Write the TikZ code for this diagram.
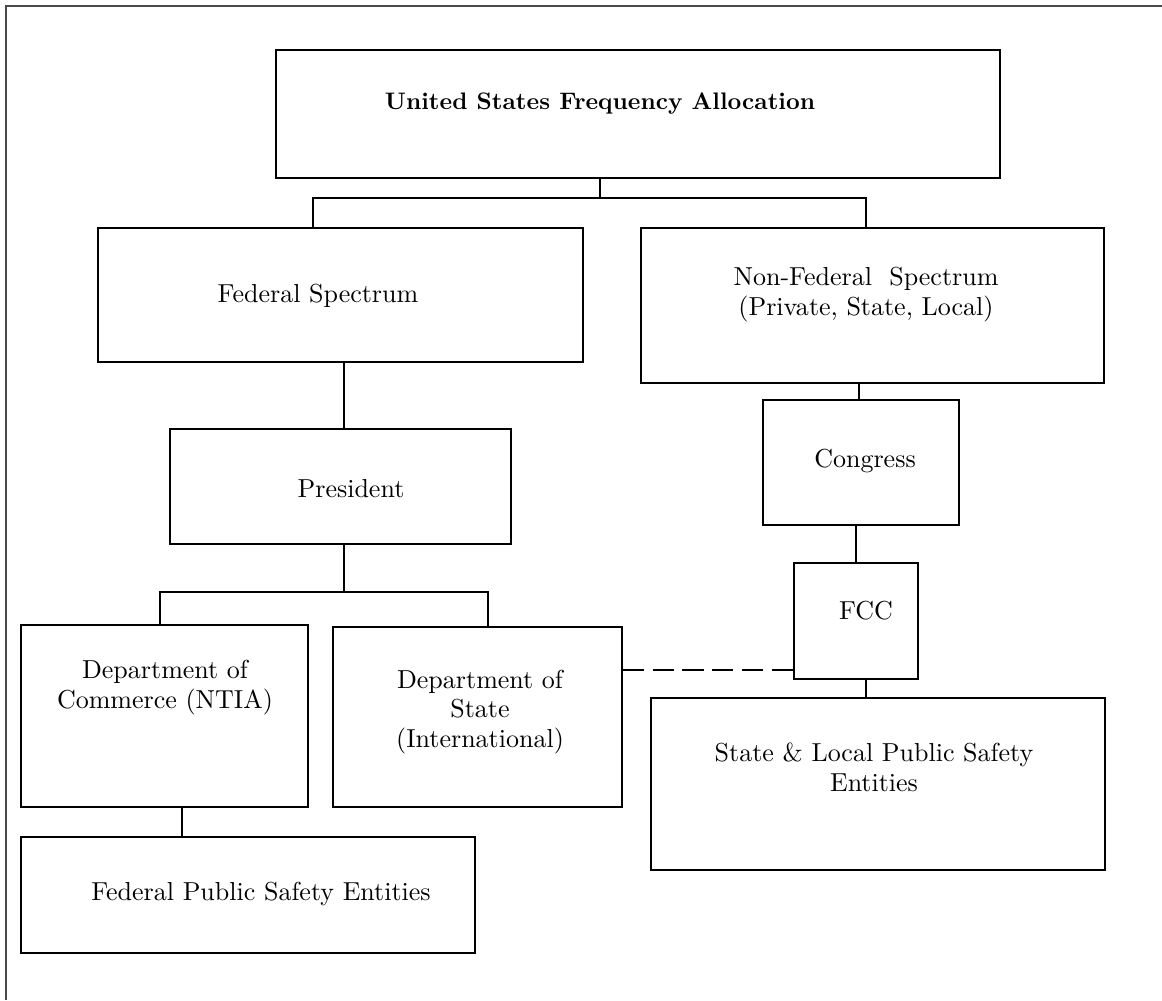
\documentclass[tikz,border=0pt]{standalone}
\usepackage{fontspec}
\setmainfont{lmroman10-regular.otf}[BoldFont=lmroman10-bold.otf]
\usetikzlibrary{fit}
\definecolor{FrameGray}{HTML}{4A4A4A}
\begin{document}
\begin{tikzpicture}[
    x=0.02cm, y=-0.02cm,
    box/.style={draw,line width=0.8pt,inner sep=0pt},
    txt/.style={inner sep=0pt,align=center,font=\fontsize{14.8}{17}\selectfont},
    link/.style={line width=0.8pt},
    dashlink/.style={line width=0.9pt,dash pattern=on 12pt off 5pt}
  ]
  \useasboundingbox (0,0) rectangle (1162,1000);
  % outer frame, cut by the page
  \draw[FrameGray,line width=1.1pt] (6,1000) -- (6,6) -- (1162,6);

  % boxes
  \node[box,fit={(276,50) (1000,178)}] (usfa) {};
  \node[box,fit={(98,228) (583,362)}] (fed) {};
  \node[box,fit={(641,228) (1104,383)}] (nonfed) {};
  \node[box,fit={(170,429) (511,544)}] (pres) {};
  \node[box,fit={(763,400) (959,525)}] (congress) {};
  \node[box,fit={(794,563) (918,679)}] (fcc) {};
  \node[box,fit={(21,625) (308,807)}] (doc) {};
  \node[box,fit={(333,627) (622,807)}] (dos) {};
  \node[box,fit={(21,837) (475,953)}] (fps) {};
  \node[box,fit={(651,698) (1105,870)}] (sl) {};

  % texts
  \node[txt,anchor=base,font=\fontsize{13.6}{17}\selectfont\bfseries] (usfaT) at (600,110) {United States Frequency Allocation};
  \node[txt,anchor=base] (fedT) at (318,302) {Federal Spectrum};
  \node[txt] (nonfedT) at (866,295) {Non-Federal\ \ Spectrum\\(Private, State, Local)};
  \node[txt,anchor=base] (presT) at (351,497) {President};
  \node[txt,anchor=base] (congressT) at (865,467) {Congress};
  \node[txt,anchor=base] (fccT) at (866,619) {FCC};
  \node[txt] (docT) at (165,688) {Department of\\Commerce (NTIA)};
  \node[txt] (dosT) at (480,712) {Department of\\State\\(International)};
  \node[txt,anchor=base] (fpsT) at (261,900) {Federal Public Safety Entities};
  \node[txt] (slT) at (874,767) {State \& Local Public Safety\\Entities};

  % connectors
  \coordinate (topbus) at (600,198);
  \coordinate (busL) at (313,198);
  \coordinate (busR) at (866,198);
  \draw[link] (usfa.south -| topbus) -- (topbus);
  \draw[link] (fed.north -| busL) -- (busL) -- (busR) -- (nonfed.north -| busR);

  \coordinate (fedx) at (344,0);
  \draw[link] (fed.south -| fedx) -- (pres.north -| fedx);

  \coordinate (presbus) at (344,592);
  \coordinate (busC) at (160,592);
  \coordinate (busS) at (488,592);
  \draw[link] (pres.south -| presbus) -- (presbus);
  \draw[link] (doc.north -| busC) -- (busC) -- (busS) -- (dos.north -| busS);

  \coordinate (docx) at (182,0);
  \draw[link] (doc.south -| docx) -- (fps.north -| docx);

  \coordinate (nfx) at (859,0);
  \coordinate (cgx) at (856,0);
  \coordinate (fccx) at (866,0);
  \draw[link] (nonfed.south -| nfx) -- (congress.north -| nfx);
  \draw[link] (congress.south -| cgx) -- (fcc.north -| cgx);
  \draw[link] (fcc.south -| fccx) -- (sl.north -| fccx);

  \coordinate (dashy) at (0,670);
  \draw[dashlink] (dos.east |- dashy) -- (fcc.west |- dashy);
\end{tikzpicture}
\end{document}
